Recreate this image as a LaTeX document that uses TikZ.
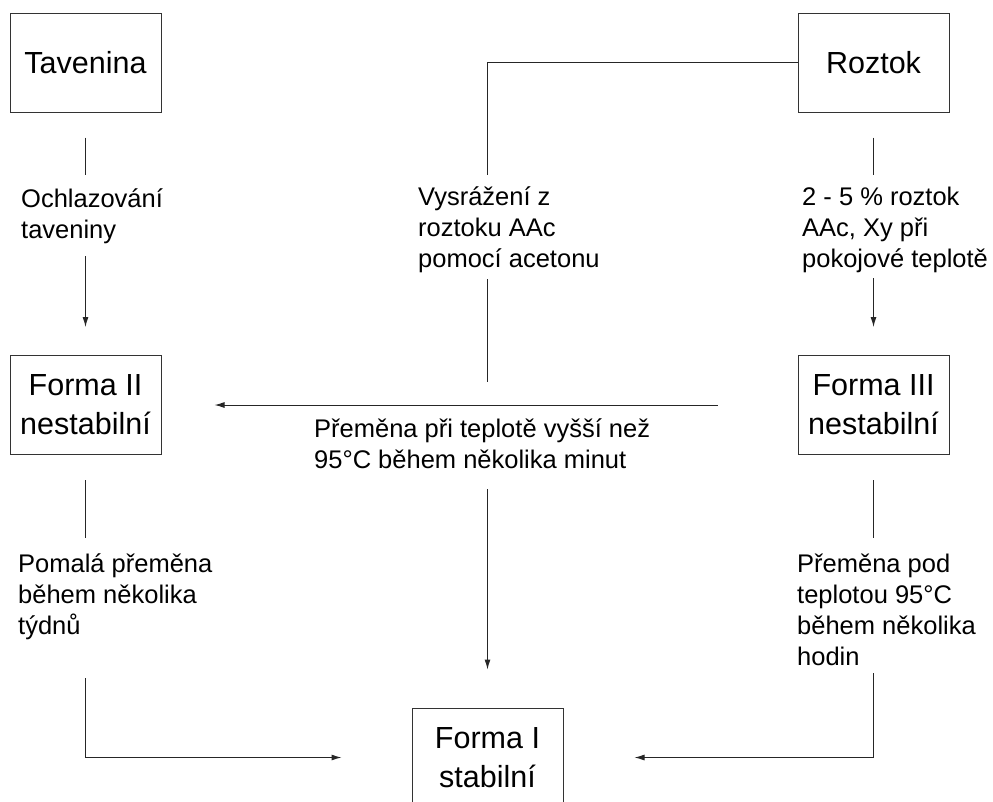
\documentclass[tikz,border=0pt]{standalone}
\usepackage{fontspec}
\setmainfont{Liberation Sans}
\usepackage{tikz}
\usetikzlibrary{calc, positioning, arrows.meta}

\begin{document}
\begin{tikzpicture}[x = 1pt, y = -1pt,
  box/.style = {draw = black!80, line width = 1pt, minimum width = 151pt, minimum height = 99pt,
    align = center, font = \fontsize{30.5}{39}\selectfont},
  lbl/.style = {anchor = north west, inner sep = 0pt, align = left, font = \fontsize{25.5}{31}\selectfont},
  conn/.style = {draw = black!85, line width = 1pt},
  arr/.style = {conn, -{Latex[length = 10pt, width = 6pt]}}]
\useasboundingbox (0,0) rectangle (993,801);
\node[box] (tav) at (85.5,62.5) {Tavenina};
\node[box] (roz) at (873.5,62.5) {Roztok};
\node[box] (f2) at (85.5,405) {Forma II\\nestabilní};
\node[box] (f3) at (873.5,405) {Forma III\\nestabilní};
\node[box] (f1) at (487.5,757.5) {Forma I\\stabilní};
\node[lbl] (ochl) at (21,189) {Ochlazování\\taveniny};
\node[lbl] (vysr) at (418,187) {Vysrážení z\\roztoku AAc\\pomocí acetonu};
\node[lbl] (konc) at (802,187) {2 - 5 \% roztok\\AAc, Xy při\\pokojové teplotě};
\node[lbl] (pmin) at (314,419) {Přeměna při teplotě vyšší než\\95°C během několika minut};
\node[lbl] (pom) at (18,554) {Pomalá přeměna\\během několika\\týdnů};
\node[lbl] (ppod) at (797,554) {Přeměna pod\\teplotou 95°C\\během několika\\hodin};
\coordinate (vtop) at (487,175);
\coordinate (vbot) at (487,382);
% tavenina -> forma II
\draw[conn, shorten <= 25pt, shorten >= 14pt] (tav) -- (tav |- ochl.north);
\draw[arr, shorten <= 12pt, shorten >= 28pt] (tav |- ochl.south) -- (f2);
% roztok -> forma III
\draw[conn, shorten <= 25pt, shorten >= 12pt] (roz) -- (roz |- konc.north);
\draw[arr, shorten <= 5pt, shorten >= 28pt] (roz |- konc.south) -- (f3);
% roztok -> srazeni
\draw[conn] (roz.west) -| (vtop);
\draw[conn, shorten <= 6pt] (vtop |- vysr.south) -- (vbot);
% forma III -> forma II
\draw[arr, shorten <= 80pt, shorten >= 53pt] (f3) -- (f2);
\draw[arr, shorten <= 20pt, shorten >= 38pt] (f1 |- pmin.south) -- (f1);
% -> forma I
\draw[conn, shorten <= 25pt, shorten >= 16pt] (f2) -- (f2 |- pom.north);
\draw[arr, shorten <= 38pt, shorten >= 70pt] (f2 |- pom.south) |- (f1);
\draw[conn, shorten <= 25pt, shorten >= 16pt] (f3) -- (f3 |- ppod.north);
\draw[arr, shorten <= 7pt, shorten >= 71pt] (f3 |- ppod.south) |- (f1);
\end{tikzpicture}
\end{document}
